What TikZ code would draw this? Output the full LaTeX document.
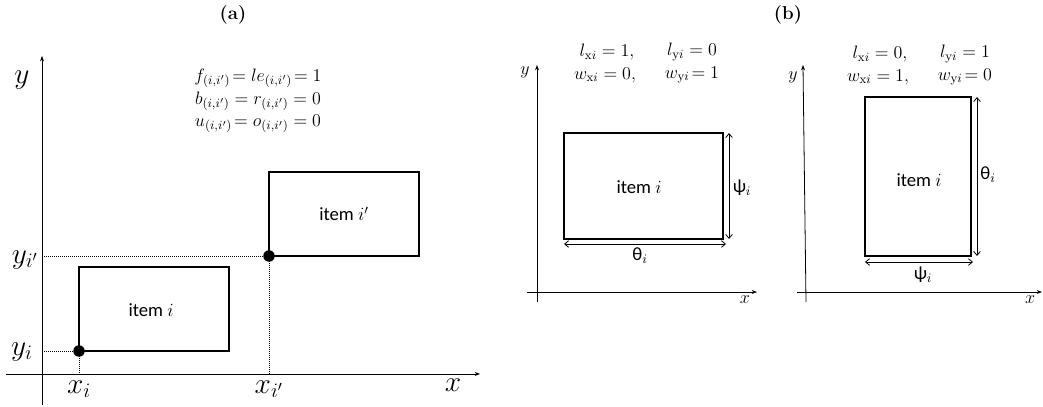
\documentclass[tikz,border=0pt]{standalone}
\usepackage{fix-cm}
\usepackage{fontspec}
\setsansfont{Carlito}
\usetikzlibrary{arrows.meta}
\begin{document}
\begin{tikzpicture}[x=0.75pt,y=-0.75pt,
  axis/.style={line width=0.6pt,-{Stealth[length=4pt,width=3pt]}},
  box/.style={line width=1.1pt},
  guide/.style={densely dotted,line width=0.5pt},
  dim/.style={line width=0.6pt,{Straight Barb[length=3pt,width=5pt]}-{Straight Barb[length=3pt,width=5pt]}},
  itemtxt/.style={font=\sffamily\fontsize{14}{16}\selectfont},
  bigm/.style={font=\fontsize{22}{26}\selectfont},
  eq/.style={font=\fontsize{13.5}{16}\selectfont},
  smallm/.style={font=\fontsize{13.5}{16}\selectfont},
  title/.style={font=\bfseries\fontsize{14}{16}\selectfont}]
\useasboundingbox (0,0) rectangle (1043,407);
% ---------- (a)
\node[title] (ta) at (233,15) {(a)};
\coordinate (ay0) at (42,405);
\coordinate (ay1) at (42,56);
\coordinate (ax0) at (6,374);
\coordinate (ax1) at (480,374);
\draw[axis] (ay0) -- (ay1);
\draw[axis] (ax0) -- (ax1);
\node[bigm] (ly) at (22,80) {$y$};
\node[bigm] (lx) at (453,385) {$x$};
\node[eq] (e1) at (258,78) {$f_{(i,i')}\!= le_{(i,i')}\!= 1$};
\node[eq] (e2) at (258,101) {$b_{(i,i')} = r_{(i,i')} = 0$};
\node[eq] (e3) at (258,124) {$u_{(i,i')}\!= o_{(i,i')} = 0$};
\draw[box] (269,172) rectangle (419,256);
\node[itemtxt] (i2) at (344,214) {item $i'$};
\draw[box] (79,267) rectangle (229,351);
\node[itemtxt] (i1) at (151,310) {item $i$};
\coordinate (p1) at (79,351);
\coordinate (p2) at (269,256);
\coordinate (gy1) at (42,351);
\coordinate (gy2) at (42,256);
\coordinate (gx1) at (79,374);
\coordinate (gx2) at (269,374);
\draw[guide] (gy1) -- (p1) -- (gx1);
\draw[guide] (gy2) -- (p2) -- (gx2);
\fill (p1) circle[radius=4.3pt];
\fill (p2) circle[radius=4.3pt];
\node[bigm] (lyi) at (22,352) {$y_i$};
\node[bigm] (lyi2) at (25,260) {$y_{i'}$};
\node[bigm] (lxi) at (79,389) {$x_i$};
\node[bigm] (lxi2) at (269,389) {$x_{i'}$};
% ---------- (b)
\node[title] (tb) at (788,15) {(b)};
% left sub-panel
\coordinate (by0) at (537,302);
\coordinate (by1) at (537,65);
\coordinate (bx0) at (527,292);
\coordinate (bx1) at (757,292);
\draw[axis] (by0) -- (by1);
\draw[axis] (bx0) -- (bx1);
\node[smallm] (bly) at (525,72) {$y$};
\node[smallm] (blx) at (745,300) {$x$};
\node[smallm] (t1) at (607,52) {$l_{\mathrm{x}i} = 1,$};
\node[smallm] (t2) at (692,52) {$l_{\mathrm{y}i} = 0$};
\node[smallm] (t3) at (605,75) {$w_{\mathrm{x}i} = 0,$};
\node[smallm] (t4) at (692,75) {$w_{\mathrm{y}i}\!= 1$};
\draw[box] (564,133) rectangle (723,239);
\node[itemtxt] (bi1) at (639,187) {item $i$};
\coordinate (r1a) at (729,133);
\coordinate (r1b) at (729,239);
\draw[dim] (r1a) -- (r1b);
\node[itemtxt] (psi1) at (742,188) {ψ$_i$};
\coordinate (b1a) at (564,244);
\coordinate (b1b) at (726,244);
\draw[dim] (b1a) -- (b1b);
\node[itemtxt] (th1) at (640,256) {θ$_i$};
% right sub-panel
\coordinate (cy0) at (806,302);
\coordinate (cy1) at (803,65);
\coordinate (cx0) at (797,292);
\coordinate (cx1) at (1042,292);
\draw[axis] (cy0) -- (cy1);
\draw[axis] (cx0) -- (cx1);
\node[smallm] (cly) at (793,77) {$y$};
\node[smallm] (clx) at (1030,300) {$x$};
\node[smallm] (s1) at (880,54) {$l_{\mathrm{x}i} = 0,$};
\node[smallm] (s2) at (965,54) {$l_{\mathrm{y}i} = 1$};
\node[smallm] (s3) at (878,77) {$w_{\mathrm{x}i} = 1,$};
\node[smallm] (s4) at (965,77) {$w_{\mathrm{y}i}\!= 0$};
\draw[box] (865,97) rectangle (971,256);
\node[itemtxt] (ci1) at (919,180) {item $i$};
\coordinate (r2a) at (977,97);
\coordinate (r2b) at (977,256);
\draw[dim] (r2a) -- (r2b);
\node[itemtxt] (th2) at (988,175) {θ$_i$};
\coordinate (b2a) at (865,262);
\coordinate (b2b) at (973,262);
\draw[dim] (b2a) -- (b2b);
\node[itemtxt] (psi2) at (923,275) {ψ$_i$};
\end{tikzpicture}
\end{document}
